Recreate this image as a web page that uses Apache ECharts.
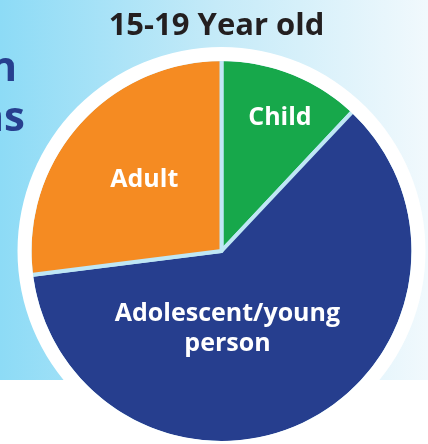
<!DOCTYPE html>
<html>
<head>
<meta charset="utf-8">
<script src="https://cdn.jsdelivr.net/npm/echarts@6/dist/echarts.min.js"></script>
<style>
html,body{margin:0;padding:0;background:#fff;}
#chart{width:428px;height:444px;}
</style>
</head>
<body>
<div id="chart"></div>
<script>
var titleText = '15-19 Year old';
var categories = ['Child', 'Adolescent/young person', 'Adult'];
var labelTexts = ['Child', 'Adolescent/young\nperson', 'Adult'];
var values = [12, 61, 27];
var colors = ['#17a84b', '#263e8e', '#f58b22'];
var labelOffsets = [[22, -41], [-39, -10], [-3, -6]];

var chart = echarts.init(document.getElementById('chart'), null, {renderer: 'canvas'});
var FONT = '"Open Sans", "Noto Sans", sans-serif';

chart.setOption({
  animation: false,
  graphic: [
    {
      type: 'rect', z: -10, silent: true,
      shape: {x: 0, y: 0, width: 428, height: 380},
      style: {
        fill: new echarts.graphic.LinearGradient(0, 0, 1, 0, [
          {offset: 0, color: '#8ddbf6'},
          {offset: 0.5, color: '#c4eaf8'},
          {offset: 1, color: '#f1f9fd'}
        ])
      }
    },
    {
      type: 'text', z: -5, silent: true,
      style: {x: 17, y: 48, text: 'n', fill: '#273f8f', font: 'bold 42px ' + FONT,
        textAlign: 'right', textVerticalAlign: 'top'}
    },
    {
      type: 'text', z: -5, silent: true,
      style: {x: 25, y: 98, text: 'ns', fill: '#273f8f', font: 'bold 42px ' + FONT,
        textAlign: 'right', textVerticalAlign: 'top'}
    },
    {
      type: 'text', z: 10, silent: true,
      style: {x: 216.5, y: 26.5, text: titleText, fill: '#231f20', font: 'bold 31px ' + FONT,
        textAlign: 'center', textVerticalAlign: 'middle'}
    }
  ],
  series: [
    {
      type: 'pie',
      z: 1,
      silent: true,
      center: [221.5, 251],
      radius: [0, 203],
      label: {show: false},
      labelLine: {show: false},
      itemStyle: {color: '#ffffff', borderWidth: 0},
      data: [{value: 1, name: 'bg'}]
    },
    {
      type: 'pie',
      z: 2,
      silent: true,
      center: [221.5, 251],
      radius: [0, 192],
      startAngle: 90,
      clockwise: true,
      avoidLabelOverlap: false,
      itemStyle: {borderColor: '#bfe7f5', borderWidth: 4, borderJoin: 'round'},
      label: {
        show: true,
        position: 'inside',
        color: '#ffffff',
        fontFamily: FONT,
        fontWeight: 'bold',
        fontSize: 25,
        lineHeight: 30,
        align: 'center',
        formatter: function (p) { return labelTexts[p.dataIndex]; }
      },
      labelLine: {show: false},
      labelLayout: function (p) {
        var o = labelOffsets[p.dataIndex];
        return {dx: o[0], dy: o[1]};
      },
      data: categories.map(function (c, i) {
        return {name: c, value: values[i], itemStyle: {color: colors[i]}};
      })
    },
    {
      type: 'pie',
      z: 3,
      silent: true,
      center: [221.5, 251],
      radius: [190, 204],
      label: {show: false},
      labelLine: {show: false},
      itemStyle: {color: '#ffffff', borderWidth: 0},
      data: [{value: 1, name: 'ring'}]
    }
  ]
});
</script>
</body>
</html>
